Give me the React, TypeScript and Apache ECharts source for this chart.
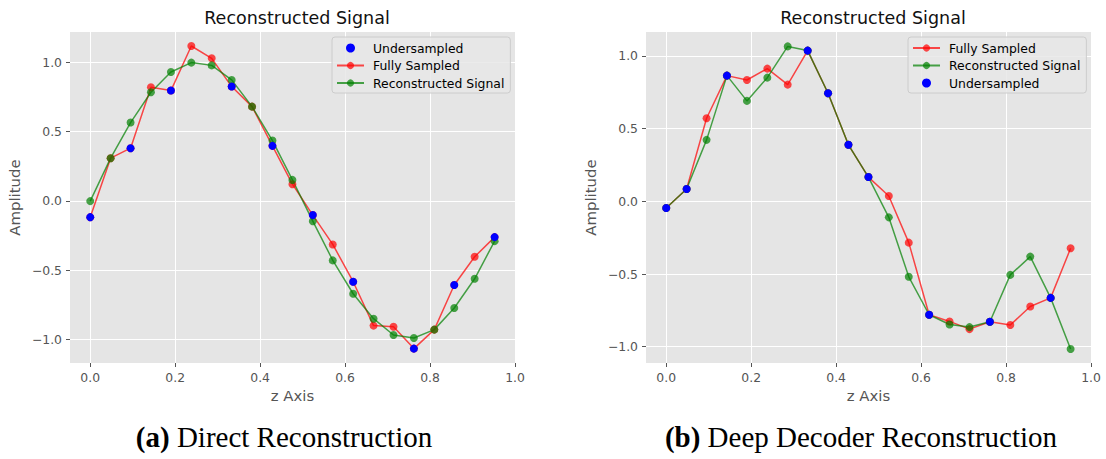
import React, { useEffect, useRef } from "react";
import * as echarts from "echarts";

// ---- data ----
const zAxis = [0, 0.048, 0.095, 0.143, 0.19, 0.238, 0.286, 0.333, 0.381, 0.429, 0.476, 0.524, 0.571, 0.619, 0.667, 0.714, 0.762, 0.81, 0.857, 0.905, 0.952];

const directFull = [-0.118, 0.308, 0.38, 0.82, 0.796, 1.118, 1.029, 0.825, 0.68, 0.397, 0.12, -0.103, -0.315, -0.584, -0.901, -0.909, -1.067, -0.93, -0.608, -0.404, -0.262];
const directRecon = [-0.002, 0.308, 0.565, 0.784, 0.93, 0.998, 0.978, 0.873, 0.68, 0.435, 0.151, -0.147, -0.43, -0.671, -0.851, -0.969, -0.99, -0.93, -0.774, -0.563, -0.291];
const directUnderZ = [0, 0.095, 0.19, 0.333, 0.429, 0.524, 0.619, 0.762, 0.857, 0.952];
const directUnderAmp = [-0.118, 0.38, 0.796, 0.825, 0.397, -0.103, -0.584, -1.067, -0.608, -0.262];

const deepFull = [-0.046, 0.085, 0.572, 0.865, 0.835, 0.913, 0.803, 1.037, 0.744, 0.389, 0.167, 0.037, -0.284, -0.78, -0.826, -0.879, -0.828, -0.851, -0.723, -0.664, -0.323];
const deepRecon = [-0.046, 0.085, 0.423, 0.865, 0.691, 0.851, 1.066, 1.037, 0.744, 0.389, 0.167, -0.11, -0.519, -0.78, -0.847, -0.865, -0.828, -0.506, -0.38, -0.664, -1.016];
const deepUnderZ = [0, 0.048, 0.143, 0.333, 0.381, 0.429, 0.476, 0.619, 0.762, 0.905];
const deepUnderAmp = [-0.046, 0.085, 0.865, 1.037, 0.744, 0.389, 0.167, -0.78, -0.828, -0.664];

const xTicks = [0, 0.2, 0.4, 0.6, 0.8, 1.0];
const yTicks = [-1, -0.5, 0, 0.5, 1];

const titleText = "Reconstructed Signal";
const xName = "z Axis";
const yName = "Amplitude";
const captionA = "Direct Reconstruction";
const captionB = "Deep Decoder Reconstruction";

// ---- styles ----
const FONT = "DejaVu Sans";
const RED = "rgba(255,0,0,0.7)";
const GREEN = "rgba(0,128,0,0.7)";
const BLUE = "#0000ff";
const GRAY = "#555555";

const fmt = (v: number) => (v < 0 ? "\u2212" : "") + Math.abs(v).toFixed(1);

const pairs = (xs: number[], ys: number[]) => xs.map((x, i) => [x, ys[i]]);

function makeX(gridIndex: number) {
  return {
    type: "value",
    gridIndex,
    min: -0.0476,
    max: 1.0,
    name: xName,
    nameLocation: "middle",
    nameGap: 25,
    nameTextStyle: { color: GRAY, fontSize: 14.9, fontFamily: FONT },
    axisLine: { show: false, onZero: false },
    axisTick: { show: true, length: 4, inside: false, customValues: xTicks, lineStyle: { color: GRAY, width: 1 } },
    axisLabel: { customValues: xTicks, margin: 8, color: GRAY, fontSize: 12.4, fontFamily: FONT, formatter: fmt },
    splitLine: { show: true, lineStyle: { color: "#ffffff", width: 1 } },
  };
}

function makeY(gridIndex: number, min: number, max: number) {
  return {
    type: "value",
    gridIndex,
    min,
    max,
    name: yName,
    nameLocation: "middle",
    nameGap: 48,
    nameTextStyle: { color: GRAY, fontSize: 14.9, fontFamily: FONT },
    axisLine: { show: false, onZero: false },
    axisTick: { show: true, length: 4, inside: false, customValues: yTicks, lineStyle: { color: GRAY, width: 1 } },
    axisLabel: { customValues: yTicks, margin: 8, color: GRAY, fontSize: 12.4, fontFamily: FONT, formatter: fmt },
    splitLine: { show: true, lineStyle: { color: "#ffffff", width: 1 } },
  };
}

function lineSeries(name: string, color: string, data: number[][], idx: number) {
  return {
    type: "line",
    name,
    xAxisIndex: idx,
    yAxisIndex: idx,
    data,
    symbol: "circle",
    symbolSize: 8,
    showSymbol: true,
    lineStyle: { color, width: 1.5 },
    itemStyle: { color, borderWidth: 0, opacity: 1 },
    emphasis: { disabled: true },
    z: 2,
  };
}

function scatterSeries(data: number[][], idx: number) {
  return {
    type: "scatter",
    name: "Undersampled",
    xAxisIndex: idx,
    yAxisIndex: idx,
    data,
    symbol: "circle",
    symbolSize: 8,
    itemStyle: { color: BLUE, opacity: 1 },
    emphasis: { disabled: true },
    z: 5,
  };
}

function legendBox(left: number, names: string[]) {
  return {
    orient: "vertical",
    left,
    top: 37,
    data: names,
    itemWidth: 27,
    itemHeight: 9,
    itemGap: 5.5,
    padding: [5, 6, 4, 4],
    backgroundColor: "rgba(232,232,232,0.85)",
    borderColor: "#cccccc",
    borderWidth: 1,
    borderRadius: 3,
    selectedMode: false,
    textStyle: { color: "#000", fontSize: 12.4, fontFamily: FONT, padding: [0, 0, 0, 4] },
  };
}

function caption(x: number, tag: string, text: string) {
  return {
    type: "text",
    x,
    y: 437,
    style: {
      text: "{b|" + tag + "} " + text,
      align: "center",
      verticalAlign: "middle",
      fontSize: 29,
      fontFamily: "Liberation Serif",
      fill: "#000",
      rich: { b: { fontWeight: "bold", fontSize: 29, fontFamily: "Liberation Serif", fill: "#000" } },
    },
  };
}

export default function App() {
  const ref = useRef<HTMLDivElement>(null);
  useEffect(() => {
    document.body.style.margin = "0";
    const chart = echarts.init(ref.current!, null, { renderer: "svg" });
    chart.setOption({
      animation: false,
      backgroundColor: "#ffffff",
      title: [
        { text: titleText, left: 292, top: 4, textAlign: "center", textStyle: { color: "#111", fontSize: 17.5, fontWeight: "normal", fontFamily: FONT } },
        { text: titleText, left: 868, top: 4, textAlign: "center", textStyle: { color: "#111", fontSize: 17.5, fontWeight: "normal", fontFamily: FONT } },
      ],
      grid: [
        { left: 70, top: 32, width: 445, height: 331, show: true, backgroundColor: "#e5e5e5", borderWidth: 0 },
        { left: 646, top: 32, width: 445, height: 331, show: true, backgroundColor: "#e5e5e5", borderWidth: 0 },
      ],
      xAxis: [makeX(0), makeX(1)],
      yAxis: [makeY(0, -1.171, 1.219), makeY(1, -1.112, 1.165)],
      legend: [
        legendBox(332, ["Undersampled", "Fully Sampled", "Reconstructed Signal"]),
        legendBox(908, ["Fully Sampled", "Reconstructed Signal", "Undersampled"]),
      ],
      series: [
        lineSeries("Fully Sampled", RED, pairs(zAxis, directFull), 0),
        lineSeries("Reconstructed Signal", GREEN, pairs(zAxis, directRecon), 0),
        scatterSeries(pairs(directUnderZ, directUnderAmp), 0),
        lineSeries("Fully Sampled", RED, pairs(zAxis, deepFull), 1),
        lineSeries("Reconstructed Signal", GREEN, pairs(zAxis, deepRecon), 1),
        scatterSeries(pairs(deepUnderZ, deepUnderAmp), 1),
      ],
      graphic: [caption(284, "(a)", captionA), caption(861, "(b)", captionB)],
    });
    return () => chart.dispose();
  }, []);
  return <div ref={ref} style={{ width: 1106, height: 459, position: "absolute", left: 0, top: 0 }} />;
}
